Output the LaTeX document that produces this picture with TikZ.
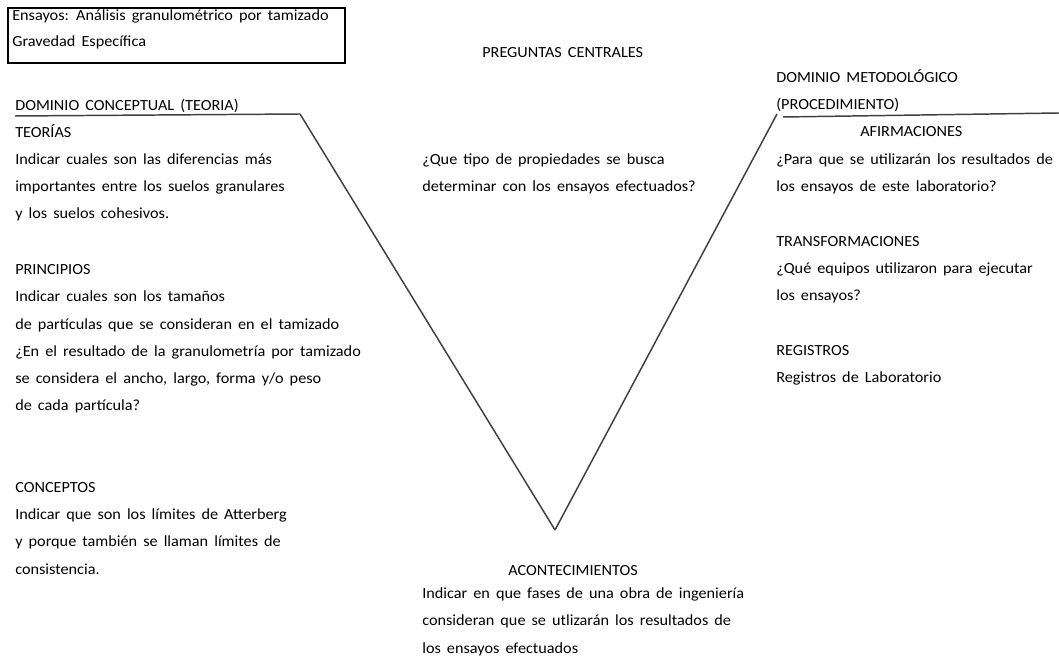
\documentclass[tikz,border=0pt]{standalone}
\usepackage{fontspec}
\setmainfont{Carlito}[FakeStretch=1.05]
\usetikzlibrary{positioning}
\pgfdeclarelayer{nodelayer}
\pgfdeclarelayer{edgelayer}
\pgfsetlayers{edgelayer,nodelayer,main}
\newcommand{\vfont}{\fontsize{11}{19.4}\selectfont\spaceskip 4.3pt plus 1pt\relax}
\tikzstyle{text block}=[fill=none, draw=none, align=left, anchor=base west, inner sep=0pt, font=\vfont]
\tikzstyle{none}=[fill=none, draw=none, shape=circle, scale=0]
\tikzstyle{v edge}=[draw=black!75, line width=1.05pt]
\tikzstyle{frame}=[draw=black, line width=0.8pt]

\begin{document}
\begin{tikzpicture}
	\useasboundingbox (0, 0) rectangle (26.475, 16.45);
	\begin{pgfonlayer}{nodelayer}
		\node [style=none] (0) at (0.2, 16.25) {};
		\node [style=none] (1) at (8.625, 14.875) {};
		\node [style=text block] (2) at (0.3, 15.28) {Ensayos: Análisis granulométrico por tamizado\\[-0.92pt]Gravedad Específica};
		\node [style=text block] (3) at (12.05, 15.0) {PREGUNTAS CENTRALES};
		\node [style=text block] (4) at (0.375, 13.675) {DOMINIO CONCEPTUAL (TEORIA)};
		\node [style=text block] (5) at (0.375, 10.975) {TEORÍAS\\Indicar cuales son las diferencias más\\importantes entre los suelos granulares\\y los suelos cohesivos.};
		\node [style=text block] (6) at (0.375, 6.175) {PRINCIPIOS\\Indicar cuales son los tamaños\\de partículas que se consideran en el tamizado\\¿En el resultado de la granulometría por tamizado\\se considera el ancho, largo, forma y/o peso\\de cada partícula?};
		\node [style=text block] (7) at (0.375, 2.1) {CONCEPTOS\\Indicar que son los límites de Atterberg\\y porque también se llaman límites de\\consistencia.};
		\node [style=text block] (8) at (10.55, 11.65) {¿Que tipo de propiedades se busca\\determinar con los ensayos efectuados?};
		\node [style=text block] (9) at (12.7, 2.075) {ACONTECIMIENTOS};
		\node [style=text block] (10) at (10.55, 0.125) {Indicar en que fases de una obra de ingeniería\\consideran que se utlizarán los resultados de\\los ensayos efectuados};
		\node [style=text block] (11) at (19.4, 13.7) {DOMINIO METODOLÓGICO\\(PROCEDIMIENTO)};
		\node [style=text block] (12) at (21.5, 13.025) {AFIRMACIONES};
		\node [style=text block] (13) at (19.4, 11.65) {¿Para que se utilizarán los resultados de\\los ensayos de este laboratorio?};
		\node [style=text block] (14) at (19.4, 8.925) {TRANSFORMACIONES\\¿Qué equipos utilizaron para ejecutar\\los ensayos?};
		\node [style=text block] (15) at (19.4, 6.875) {REGISTROS\\Registros de Laboratorio};
		\node [style=none] (16) at (0.375, 13.55) {};
		\node [style=none] (17) at (7.5, 13.6) {};
		\node [style=none] (18) at (13.875, 3.2) {};
		\node [style=none] (19) at (19.425, 13.6) {};
		\node [style=none] (20) at (19.575, 13.525) {};
		\node [style=none] (21) at (26.475, 13.625) {};
	\end{pgfonlayer}
	\begin{pgfonlayer}{edgelayer}
		\draw [style=frame] (0.center) rectangle (1.center);
		\draw [style=v edge] (16.center) to (17.center);
		\draw [style=v edge] (17.center) to (18.center);
		\draw [style=v edge] (18.center) to (19.center);
		\draw [style=v edge] (20.center) to (21.center);
	\end{pgfonlayer}
\end{tikzpicture}
\end{document}
